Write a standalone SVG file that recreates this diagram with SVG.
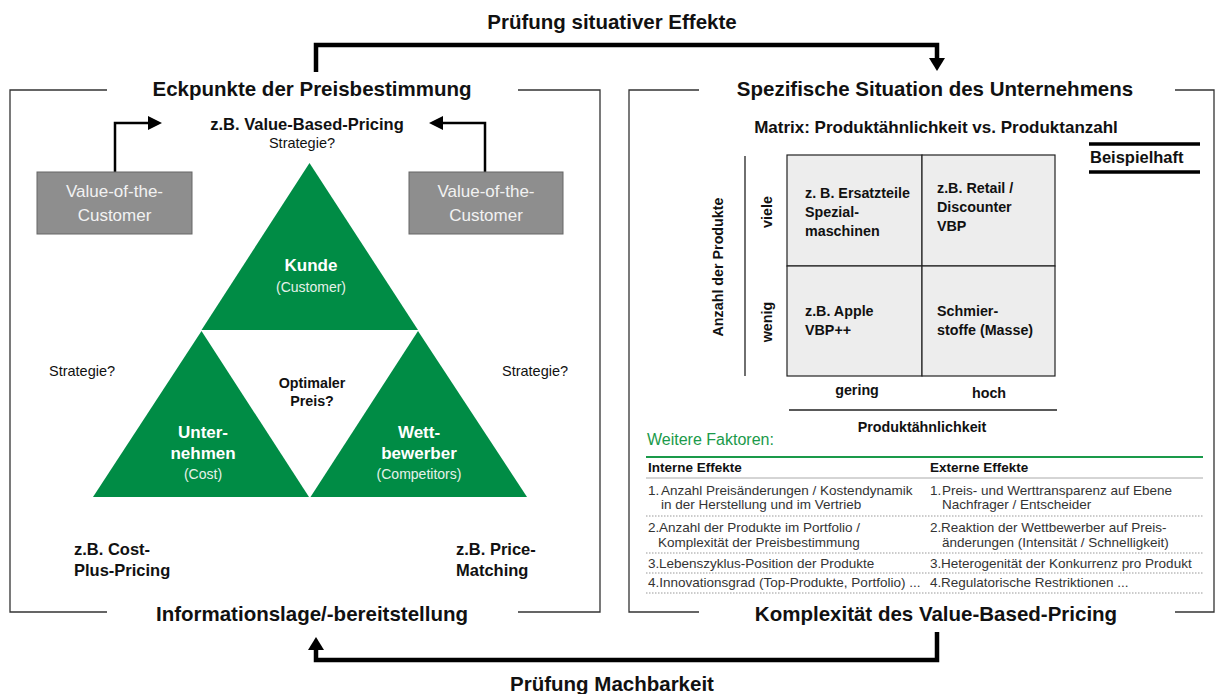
<svg xmlns="http://www.w3.org/2000/svg" width="1223" height="694" viewBox="0 0 1223 694">
<style>
text{font-family:"Liberation Sans",Arial,sans-serif;fill:#111}
.title{font-size:20.5px;font-weight:bold;text-anchor:middle}
.frame{fill:none;stroke:#333;stroke-width:1.3}
.big{fill:none;stroke:#000;stroke-width:4.5}
.thin{fill:none;stroke:#000;stroke-width:2.5}
.tri{fill:#008c45}
.gbox{fill:#8e8e8e;stroke:#666;stroke-width:1}
.gtxt{font-size:17px;fill:#f2f2f2;text-anchor:middle}
.wb{font-size:17px;font-weight:bold;fill:#fff;text-anchor:middle}
.ws{font-size:14px;fill:#e6f2ea;text-anchor:middle}
.reg{font-size:14.5px}
.b15{font-size:16.5px;font-weight:bold}
.cell{fill:#ededed;stroke:#222;stroke-width:1.2}
.ct{font-size:14.3px;font-weight:bold}
.tb{font-size:13.5px;fill:#333}
.th{font-size:13.5px;font-weight:bold}
.dot{stroke:#999;stroke-width:1;stroke-dasharray:1.5 1.5}
</style>
<g id="top-label"><text class="title" x="612" y="29">Prüfung situativer Effekte</text></g>
<g id="bottom-label"><text class="title" x="612" y="691">Prüfung Machbarkeit</text></g>
<g id="connectors">
<path class="big" d="M316,72 V45 H937 V60"/>
<polygon points="929,58 945,58 937,71" fill="#000"/>
<path class="big" d="M937,632 V660 H316 V648"/>
<polygon points="308,650 324,650 316,637" fill="#000"/>
<path class="thin" d="M115,172 V123 H150"/>
<polygon points="148,116 162,123 148,130" fill="#000"/>
<path class="thin" d="M485,172 V123 H442"/>
<polygon points="443,116 429,123 443,130" fill="#000"/>
</g>
<g id="left-frame">
<path class="frame" d="M107,90 H10 V612 H107 M518,90 H600 V612 H518"/>
<text class="title" x="312" y="96">Eckpunkte der Preisbestimmung</text>
<text class="title" x="312" y="621">Informationslage/-bereitstellung</text>
</g>
<g id="vbp">
<text class="b15" x="307" y="130" text-anchor="middle">z.B. Value-Based-Pricing</text>
<text class="reg" x="302" y="148" text-anchor="middle">Strategie?</text>
</g>
<g id="votc-left">
<rect class="gbox" x="37" y="172" width="155" height="62"/>
<text class="gtxt" x="114.5" y="197">Value-of-the-</text>
<text class="gtxt" x="114.5" y="221">Customer</text>
</g>
<g id="votc-right">
<rect class="gbox" x="409" y="172" width="154" height="62"/>
<text class="gtxt" x="486" y="197">Value-of-the-</text>
<text class="gtxt" x="486" y="221">Customer</text>
</g>
<g id="kunde">
<polygon class="tri" points="309.5,163 201.5,330 418,330"/>
<text class="wb" x="311" y="271">Kunde</text>
<text class="ws" x="311" y="292">(Customer)</text>
</g>
<g id="unternehmen">
<polygon class="tri" points="201.5,331 93,497 309,497"/>
<text class="wb" x="203" y="438">Unter-</text>
<text class="wb" x="203" y="459">nehmen</text>
<text class="ws" x="203" y="479">(Cost)</text>
</g>
<g id="wettbewerber">
<polygon class="tri" points="418,331 310.5,497 527,497"/>
<text class="wb" x="419" y="438">Wett-</text>
<text class="wb" x="419" y="459">bewerber</text>
<text class="ws" x="419" y="479">(Competitors)</text>
</g>
<g id="optimal">
<text class="ct" x="312" y="388" text-anchor="middle">Optimaler</text>
<text class="ct" x="312" y="406" text-anchor="middle">Preis?</text>
</g>
<g id="strategie-left"><text class="reg" x="49" y="376">Strategie?</text></g>
<g id="strategie-right"><text class="reg" x="502" y="376">Strategie?</text></g>
<g id="cost-plus">
<text class="b15" x="74" y="555">z.B. Cost-</text>
<text class="b15" x="74" y="576">Plus-Pricing</text>
</g>
<g id="price-matching">
<text class="b15" x="456" y="555">z.B. Price-</text>
<text class="b15" x="456" y="576">Matching</text>
</g>
<g id="right-frame">
<path class="frame" d="M699,90 H629 V612 H699 M1175,90 H1214 V612 H1175"/>
<text class="title" x="935" y="96">Spezifische Situation des Unternehmens</text>
<text class="title" x="936" y="621">Komplexität des Value-Based-Pricing</text>
</g>
<g id="matrix">
<text x="936" y="133" font-size="17" font-weight="bold" text-anchor="middle">Matrix: Produktähnlichkeit vs. Produktanzahl</text>
<line x1="745" y1="156" x2="745" y2="376" stroke="#222" stroke-width="1.3"/>
<line x1="789" y1="410" x2="1057" y2="410" stroke="#222" stroke-width="1.3"/>
<rect class="cell" x="787" y="155" width="135" height="111"/>
<rect class="cell" x="922" y="155" width="133" height="111"/>
<rect class="cell" x="787" y="266" width="135" height="110"/>
<rect class="cell" x="922" y="266" width="133" height="110"/>
<text class="ct" x="805" y="198">z. B. Ersatzteile</text>
<text class="ct" x="805" y="217">Spezial-</text>
<text class="ct" x="805" y="236">maschinen</text>
<text class="ct" x="937" y="193">z.B. Retail /</text>
<text class="ct" x="937" y="212">Discounter</text>
<text class="ct" x="937" y="231">VBP</text>
<text class="ct" x="805" y="316">z.B. Apple</text>
<text class="ct" x="805" y="335">VBP++</text>
<text class="ct" x="937" y="316">Schmier-</text>
<text class="ct" x="937" y="335">stoffe (Masse)</text>
<text class="ct" x="0" y="0" text-anchor="middle" transform="translate(772,212) rotate(-90)">viele</text>
<text class="ct" x="0" y="0" text-anchor="middle" transform="translate(772,322) rotate(-90)">wenig</text>
<text class="ct" x="0" y="0" text-anchor="middle" transform="translate(723,267) rotate(-90)">Anzahl der Produkte</text>
<text class="ct" x="857" y="395" text-anchor="middle">gering</text>
<text class="ct" x="989" y="398" text-anchor="middle">hoch</text>
<text class="ct" x="922" y="432" text-anchor="middle">Produktähnlichkeit</text>
</g>
<g id="beispielhaft">
<line x1="1089" y1="144" x2="1200" y2="144" stroke="#000" stroke-width="3.5"/>
<line x1="1089" y1="172" x2="1200" y2="172" stroke="#000" stroke-width="3.5"/>
<text x="1090" y="163" font-size="16.5" font-weight="bold">Beispielhaft</text>
</g>
<g id="faktoren">
<text x="647" y="445" font-size="16" style="fill:#1a9a4a">Weitere Faktoren:</text>
<line x1="646" y1="457" x2="1203" y2="457" stroke="#1a9a4a" stroke-width="2"/>
<text class="th" x="648" y="472">Interne Effekte</text>
<text class="th" x="930" y="472">Externe Effekte</text>
<line x1="646" y1="478" x2="1203" y2="478" stroke="#aaa" stroke-width="1"/>
<text class="tb" x="648" y="495">1.<tspan x="661">Anzahl Preisänderungen / Kostendynamik</tspan></text>
<text class="tb" x="661" y="509">in der Herstellung und im Vertrieb</text>
<text class="tb" x="930" y="495">1.<tspan x="942">Preis- und Werttransparenz auf Ebene</tspan></text>
<text class="tb" x="942" y="509">Nachfrager / Entscheider</text>
<line class="dot" x1="646" y1="516" x2="1203" y2="516"/>
<text class="tb" x="648" y="532">2.<tspan x="659">Anzahl der Produkte im Portfolio /</tspan></text>
<text class="tb" x="658" y="547">Komplexität der Preisbestimmung</text>
<text class="tb" x="930" y="532">2.<tspan x="941">Reaktion der Wettbewerber auf Preis-</tspan></text>
<text class="tb" x="942" y="547">änderungen (Intensität / Schnelligkeit)</text>
<line class="dot" x1="646" y1="553" x2="1203" y2="553"/>
<text class="tb" x="648" y="568">3.<tspan x="659">Lebenszyklus-Position der Produkte</tspan></text>
<text class="tb" x="930" y="568">3.<tspan x="941">Heterogenität der Konkurrenz pro Produkt</tspan></text>
<line class="dot" x1="646" y1="573" x2="1203" y2="573"/>
<text class="tb" x="648" y="587">4.Innovationsgrad (Top-Produkte, Portfolio) ...</text>
<text class="tb" x="930" y="587">4.<tspan x="941">Regulatorische Restriktionen ...</tspan></text>
<line class="dot" x1="646" y1="593" x2="1203" y2="593"/>
</g>
</svg>
